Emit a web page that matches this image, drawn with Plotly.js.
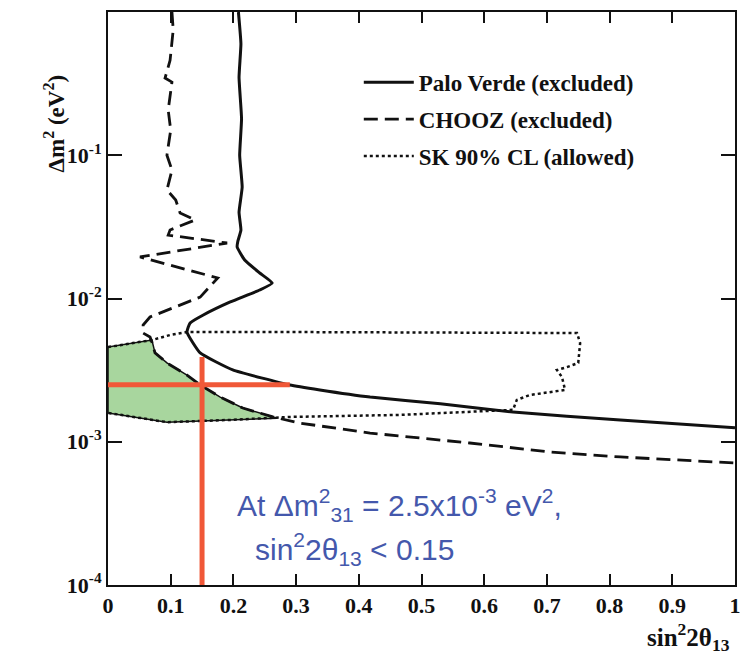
<!DOCTYPE html>
<html>
<head>
<meta charset="utf-8">
<script src="https://cdn.plot.ly/plotly-3.0.1.min.js"></script>
<style>
  html, body { margin: 0; padding: 0; background: #fff; }
  #chart { width: 745px; height: 656px; }
</style>
</head>
<body>
<div id="chart"></div>
<script>
// Palo Verde exclusion contour (solid)
const pvX = [0.208, 0.212, 0.209, 0.213, 0.210, 0.214, 0.209, 0.212, 0.207, 0.206,
             0.218, 0.242, 0.262, 0.242, 0.195, 0.152, 0.131, 0.126,
             0.147, 0.199, 0.290, 0.338, 0.418, 0.530, 0.646, 0.817, 1.0];
const pvY = [1.0, 0.6, 0.35, 0.18, 0.1, 0.06, 0.04, 0.03, 0.025, 0.0229,
             0.01857, 0.01507, 0.01283, 0.01146, 0.00946, 0.00767, 0.00675, 0.00583,
             0.00417, 0.00317, 0.00249, 0.00230, 0.00205, 0.00184, 0.00161, 0.00142, 0.00125];

// CHOOZ exclusion contour (dashed)
const chX = [0.102, 0.104, 0.099, 0.091, 0.102, 0.096, 0.100, 0.094, 0.102, 0.094,
             0.108, 0.115, 0.139, 0.099, 0.096, 0.190, 0.051, 0.175, 0.147, 0.067,
             0.056, 0.056, 0.067, 0.070, 0.075, 0.094, 0.126, 0.147, 0.179, 0.215,
             0.263, 0.306, 0.418, 0.577, 0.705, 0.817, 1.0];
const chY = [1.0, 0.75, 0.46, 0.346, 0.324, 0.207, 0.150, 0.100, 0.0789, 0.0572,
             0.0487, 0.0395, 0.0353, 0.0301, 0.0277, 0.0244, 0.0195, 0.0139, 0.01023, 0.00743,
             0.00653, 0.00574, 0.00538, 0.00497, 0.00417, 0.00355, 0.00292, 0.00249, 0.00205, 0.00172,
             0.00149, 0.00135, 0.00115, 0.00098, 0.000848, 0.000783, 0.000711];

// Super-Kamiokande 90% CL allowed region (dotted, closed)
const skX = [0.0, 0.070, 0.099, 0.126, 0.306, 0.748, 0.753, 0.750, 0.732, 0.716,
             0.724, 0.729, 0.673, 0.652, 0.646, 0.466, 0.290, 0.195, 0.094, 0.0];
const skY = [0.00458, 0.00513, 0.00556, 0.00583, 0.00583, 0.00574, 0.00489, 0.00355, 0.00332, 0.00317,
             0.00283, 0.00230, 0.00212, 0.00196, 0.00167, 0.00154, 0.00149, 0.00142, 0.00137, 0.00159];

// Region allowed by SK and not excluded by CHOOZ (shaded)
const okX = [0.0, 0.070, 0.075, 0.094, 0.126, 0.147, 0.179, 0.215, 0.270, 0.195, 0.094, 0.0, 0.0];
const okY = [0.00458, 0.00513, 0.00417, 0.00355, 0.00292, 0.00249, 0.00205, 0.00172, 0.00146, 0.00142, 0.00137, 0.00159, 0.00458];

const dm2 = 2.5e-3;
const s2Limit = 0.15;
const crossX = [0, 0.29];
const crossTopY = 3.9e-3;

// Axis ticks
const xTicks = [0, 0.1, 0.2, 0.3, 0.4, 0.5, 0.6, 0.7, 0.8, 0.9, 1];
const xTickText = ['0', '0.1', '0.2', '0.3', '0.4', '0.5', '0.6', '0.7', '0.8', '0.9', '1'];
const yTicks = [1e-4, 1e-3, 1e-2, 1e-1, 1];
const yTickText = ['10<sup>-4</sup>', '10<sup>-3</sup>', '10<sup>-2</sup>', '10<sup>-1</sup>', '1'];

const ink = '#111';
const red = 'rgb(240,88,56)';
const serif = 'Liberation Serif';
const blue = 'rgb(68,88,172)';

const traces = [
  { x: okX, y: okY, mode: 'lines', fill: 'toself', fillcolor: 'rgb(168,214,158)',
    line: { color: ink, width: 1.5 }, showlegend: false, hoverinfo: 'skip' },
  { x: pvX, y: pvY, mode: 'lines', name: 'Palo Verde (excluded)', legendgroup: 'a',
    line: { color: ink, width: 3, shape: 'spline', smoothing: 0.4 } },
  { x: chX, y: chY, mode: 'lines', name: 'CHOOZ (excluded)', legendgroup: 'b',
    line: { color: ink, width: 2.8, dash: '14px,7px' } },
  { x: skX, y: skY, mode: 'lines', name: 'SK 90% CL (allowed)', legendgroup: 'c',
    line: { color: ink, width: 2.5, dash: 'dot' } },
  { x: crossX, y: [dm2, dm2], mode: 'lines', showlegend: false, hoverinfo: 'skip',
    line: { color: red, width: 5 } },
  { x: [s2Limit, s2Limit], y: [1e-4, crossTopY], mode: 'lines', showlegend: false, hoverinfo: 'skip',
    line: { color: red, width: 5 } }
];

const layout = {
  width: 745, height: 656,
  margin: { l: 108, r: 10, t: 12, b: 71, autoexpand: false },
  font: { family: serif, color: ink, size: 22 },
  showlegend: true,
  legend: {
    x: 0.40, y: 0.915, xanchor: 'left', yanchor: 'top',
    font: { family: serif, size: 23, color: ink, weight: 'bold' },
    traceorder: 'grouped', tracegroupgap: 4, itemwidth: 50
  },
  xaxis: {
    range: [0, 1], tickmode: 'array', tickvals: xTicks, ticktext: xTickText,
    showgrid: false, zeroline: false, showline: true, linecolor: ink, linewidth: 2,
    mirror: 'ticks', ticks: 'inside', ticklen: 11, tickwidth: 1.5, tickcolor: ink,
    tickfont: { family: serif, size: 22, color: ink, weight: 'bold' }
  },
  yaxis: {
    type: 'log', range: [-4, 0], tickmode: 'array', tickvals: yTicks, ticktext: yTickText,
    showgrid: false, zeroline: false, showline: true, linecolor: ink, linewidth: 2,
    mirror: 'ticks', ticks: 'inside', ticklen: 14, tickwidth: 1.5, tickcolor: ink,
    tickfont: { family: serif, size: 22, color: ink, weight: 'bold' }
  },
  annotations: [
    { xref: 'paper', yref: 'paper', x: -0.112, y: 0.895, textangle: -90,
      text: 'Δm<sup>2</sup> (eV<sup>2</sup>)', showarrow: false,
      font: { family: serif, size: 23, color: ink, weight: 'bold' } },
    { xref: 'paper', yref: 'paper', x: 0.996, y: -0.055, xanchor: 'right', yanchor: 'top',
      text: 'sin<sup>2</sup>2θ<sub>13</sub>', showarrow: false,
      font: { family: serif, size: 25, color: ink, weight: 'bold' } },
    { xref: 'paper', yref: 'paper', x: 0.203, y: 0.14, xanchor: 'left', yanchor: 'middle',
      text: 'At Δm<sup>2</sup><sub>31</sub> = 2.5x10<sup>-3</sup> eV<sup>2</sup>,', showarrow: false,
      font: { family: 'Liberation Sans', size: 30, color: blue } },
    { xref: 'paper', yref: 'paper', x: 0.232, y: 0.062, xanchor: 'left', yanchor: 'middle',
      text: 'sin<sup>2</sup>2θ<sub>13</sub> &lt; 0.15', showarrow: false,
      font: { family: 'Liberation Sans', size: 30, color: blue } }
  ]
};

Plotly.newPlot('chart', traces, layout, { displayModeBar: false });
</script>
</body>
</html>
